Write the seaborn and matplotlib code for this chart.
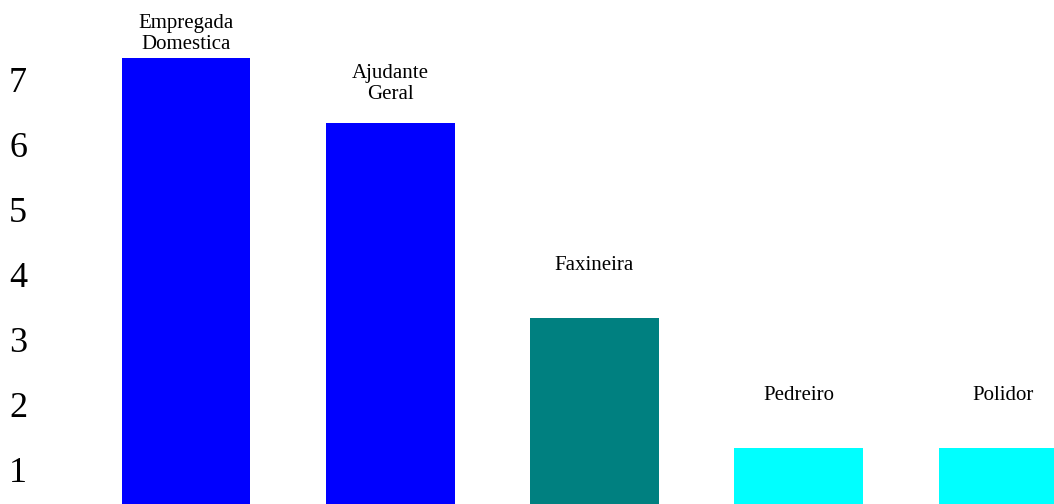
import matplotlib
matplotlib.use("Agg")
import matplotlib.pyplot as plt
import matplotlib.transforms as mtransforms
import pandas as pd
import seaborn as sns

# Data
categories = ["Empregada\nDomestica", "Ajudante\nGeral", "Faxineira", "Pedreiro", "Polidor"]
counts = [7, 6, 3, 1, 1]
bar_colors = ["#0000ff", "#0000ff", "#008080", "#00ffff", "#00ffff"]
y_ticks = [1, 2, 3, 4, 5, 6, 7]

# label gap above each bar (points)
label_gaps = [17, 28, 37.5, 37.5, 37.5]

sns.set_style("white")
plt.rcParams["font.family"] = ["Liberation Serif", "DejaVu Serif"]
plt.rcParams["text.color"] = "black"
plt.rcParams["ytick.color"] = "black"
plt.rcParams["ytick.labelcolor"] = "black"

df = pd.DataFrame({"cat": categories, "n": counts})

fig = plt.figure(figsize=(10.54, 5.04), dpi=100)
ax = fig.add_axes([0, 0, 1, 1])

sns.barplot(data=df, x="cat", y="n", hue="cat", palette=bar_colors,
            legend=False, width=0.63, saturation=1, linewidth=0, ax=ax)

ax.set_xlim(-0.911, 4.25)
ax.set_ylim(0.138, 7.89)

# category labels above the bars
for i, (cat, n) in enumerate(zip(categories, counts)):
    ax.annotate(cat, xy=(i, n), xytext=(0, label_gaps[i]), textcoords="offset points",
                ha="center", va="center", fontsize=15, linespacing=1.15, color="black")

# y tick labels drawn inside the plot area, shifted down a bit
ax.set_yticks(y_ticks)
ax.set_yticklabels([str(t) for t in y_ticks])
ax.tick_params(axis="y", length=0, pad=-19.5, labelsize=26, labelcolor="black")
ax.set_xticks([])
shift = mtransforms.ScaledTranslation(0, -0.215, fig.dpi_scale_trans)
for lab in ax.get_yticklabels():
    lab.set_transform(lab.get_transform() + shift)

ax.set_xlabel("")
ax.set_ylabel("")
for s in ax.spines.values():
    s.set_visible(False)

fig.savefig("out.png", dpi=100)
